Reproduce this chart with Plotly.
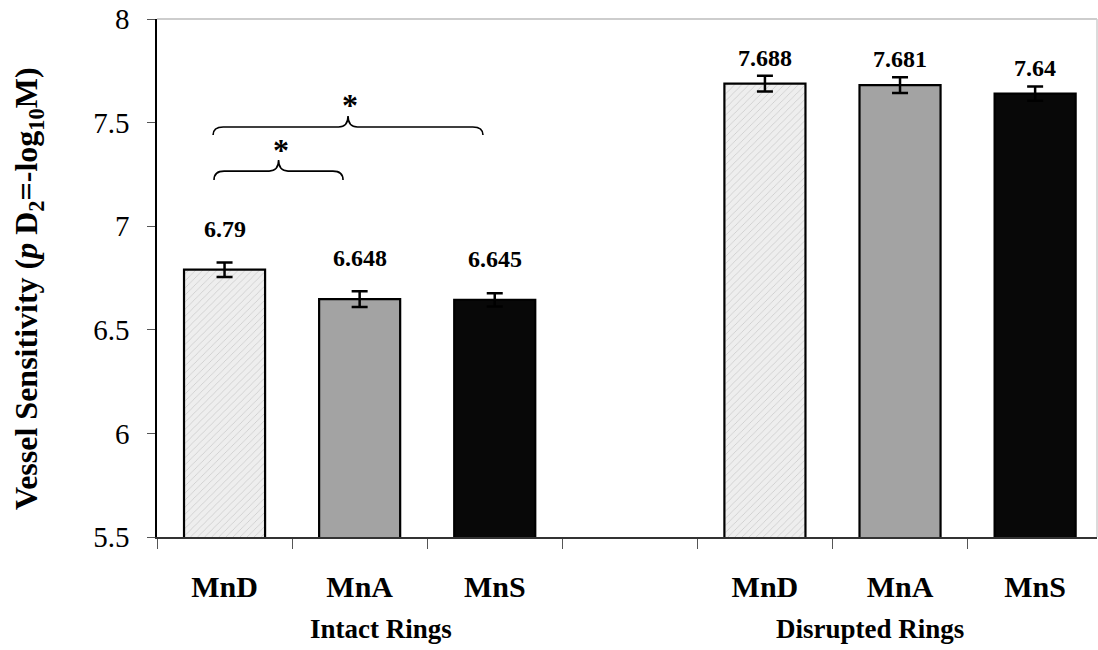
import plotly.graph_objects as go

# ---- data ----
groups = ["Intact Rings", "Disrupted Rings"]
compounds = ["MnD", "MnA", "MnS"]
intact_vals = [6.79, 6.648, 6.645]
disrupted_vals = [7.688, 7.681, 7.64]
intact_err = [0.035, 0.038, 0.032]
disrupted_err = [0.038, 0.038, 0.034]
y_ticks = [5.5, 6, 6.5, 7, 7.5, 8]

# category slots: 0,1,2 intact | 3 blank | 4,5,6 disrupted
intact_pos = [0, 1, 2]
disrupted_pos = [4, 5, 6]

FONT = "Liberation Serif, Times New Roman, serif"

styles = {
    "MnD": dict(color="#eeeeee", pattern=dict(shape="/", fgcolor="#a8a8a8", bgcolor="#eeeeee", size=5, solidity=0.16)),
    "MnA": dict(color="#a3a3a3"),
    "MnS": dict(color="#080808"),
}

fig = go.Figure()
for i, c in enumerate(compounds):
    st = styles[c]
    marker = dict(color=st["color"], line=dict(color="black", width=2.2))
    if "pattern" in st:
        marker["pattern"] = st["pattern"]
    fig.add_trace(go.Bar(
        x=[intact_pos[i], disrupted_pos[i]],
        y=[intact_vals[i], disrupted_vals[i]],
        width=0.6,
        marker=marker,
        error_y=dict(type="data", array=[intact_err[i], disrupted_err[i]],
                     color="black", thickness=2.5, width=8),
        name=c,
        showlegend=False,
    ))

# value labels
for pos, v in zip(intact_pos, intact_vals):
    fig.add_annotation(x=pos, y=v, text=f"<b>{v}</b>", showarrow=False, yshift=41,
                       yanchor="middle", font=dict(family=FONT, size=24, color="black"))
for pos, v in zip(disrupted_pos, disrupted_vals):
    fig.add_annotation(x=pos, y=v, text=f"<b>{v}</b>", showarrow=False, yshift=26,
                       yanchor="middle", font=dict(family=FONT, size=24, color="black"))

# significance braces
def brace(x0, x1, yend, yline, ytip, xm, dx=0.075, dxt=0.07):
    return (f"M {x0},{yend} Q {x0},{yline} {x0+dx},{yline} "
            f"L {xm-dxt},{yline} Q {xm},{yline} {xm},{ytip} "
            f"Q {xm},{yline} {xm+dxt},{yline} "
            f"L {x1-dx},{yline} Q {x1},{yline} {x1},{yend}")

fig.add_shape(type="path", xref="x", yref="y",
              path=brace(-0.085, 1.913, 7.44, 7.479, 7.532, 0.914),
              line=dict(color="black", width=1.6))
fig.add_shape(type="path", xref="x", yref="y",
              path=brace(-0.078, 0.877, 7.223, 7.266, 7.319, 0.40),
              line=dict(color="black", width=1.6))
fig.add_annotation(x=0.93, y=7.585, text="<b>*</b>", showarrow=False, yanchor="middle",
                   font=dict(family=FONT, size=32, color="black"))
fig.add_annotation(x=0.42, y=7.37, text="<b>*</b>", showarrow=False, yanchor="middle",
                   font=dict(family=FONT, size=32, color="black"))

# group labels
fig.add_annotation(x=1.158, y=-0.178, xref="x", yref="paper", text="<b>Intact Rings</b>",
                   showarrow=False, yanchor="middle",
                   font=dict(family=FONT, size=27, color="black"))
fig.add_annotation(x=4.78, y=-0.178, xref="x", yref="paper", text="<b>Disrupted Rings</b>",
                   showarrow=False, yanchor="middle",
                   font=dict(family=FONT, size=27, color="black"))

# y title
fig.add_annotation(x=-0.136, y=0.479, xref="paper", yref="paper",
                   text="<b>Vessel Sensitivity (<i>p</i> D<sub>2</sub>=-log<sub>10</sub>M)</b>",
                   textangle=-90, showarrow=False, xanchor="center", yanchor="middle",
                   font=dict(family=FONT, size=32, color="black"))

# top & right light borders
fig.add_shape(type="line", xref="paper", yref="paper", x0=0, x1=1, y0=1, y1=1,
              line=dict(color="#bdbdbd", width=1.5))
fig.add_shape(type="line", xref="paper", yref="paper", x0=1, x1=1, y0=0, y1=1,
              line=dict(color="#cfcfcf", width=1.5))

tickvals = intact_pos + disrupted_pos
ticktext = [f"<b>{c}</b>" for c in compounds] * 2

fig.update_layout(
    width=1098, height=650,
    margin=dict(l=157, r=1, t=19, b=113),
    plot_bgcolor="white", paper_bgcolor="white",
    bargap=0.4,
    font=dict(family=FONT, color="black"),
    xaxis=dict(
        range=[-0.5, 6.458],
        tickmode="array", tickvals=tickvals, ticktext=ticktext,
        ticks="", showgrid=False, zeroline=False,
        showline=True, linecolor="#333333", linewidth=2,
        tickfont=dict(family=FONT, size=30, color="black"),
        ticklabelstandoff=22,
        minor=dict(tick0=-0.5, dtick=1, ticks="outside", ticklen=10,
                   tickcolor="#555555", tickwidth=1, showgrid=False),
    ),
    yaxis=dict(
        range=[5.5, 8],
        tickmode="array", tickvals=y_ticks, ticktext=[str(t) for t in y_ticks],
        ticks="outside", ticklen=8, tickcolor="#555555", tickwidth=1,
        showgrid=False, zeroline=False,
        showline=True, linecolor="black", linewidth=1.5,
        tickfont=dict(family=FONT, size=29, color="black"),
        ticklabelstandoff=12,
        ticklabeloverflow="allow",
    ),
)

# remove the browser's default 8px body margin so the figure fills the window
fig.write_html("out.html",
               config={"displayModeBar": False},
               post_script="document.body.style.margin='0px';document.body.style.padding='0px';document.body.style.overflow='hidden';")
